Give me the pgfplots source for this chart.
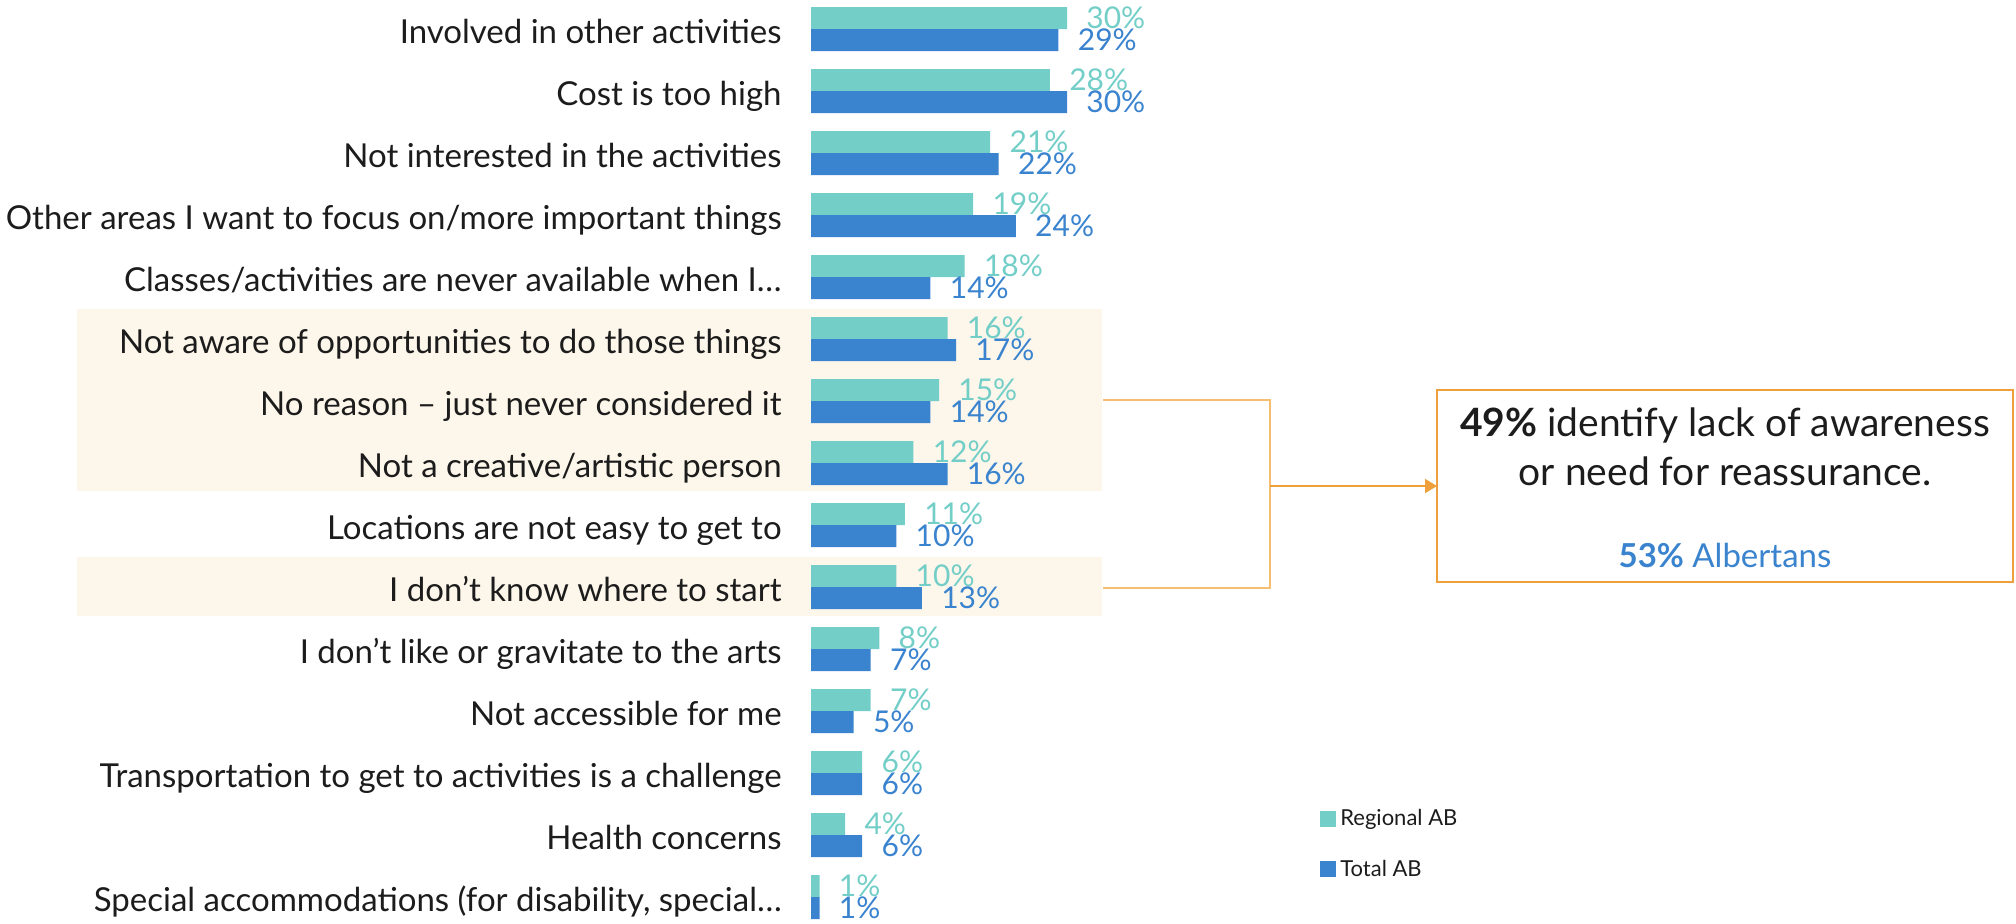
\documentclass[border=0pt]{standalone}
\usepackage{pgfplots}
\pgfplotsset{compat=1.18}
\usepackage{pgfplotstable}
\usepackage{fontspec}
\setmainfont{Lato}
\usetikzlibrary{arrows.meta}
\definecolor{regc}{RGB}{115,206,200}
\definecolor{totc}{RGB}{58,131,206}
\definecolor{bandc}{RGB}{253,246,234}
\definecolor{boxc}{RGB}{237,160,60}
\definecolor{brc}{RGB}{245,190,112}
\definecolor{txtc}{RGB}{28,28,28}
\pgfplotstableread{
y r t
14 30 29
13 28 30
12 21 22
11 19 24
10 18 14
9 16 17
8 15 14
7 12 16
6 11 10
5 10 13
4 8 7
3 7 5
2 6 6
1 4 6
0 1 1
}\data
\begin{document}
\begin{tikzpicture}
\useasboundingbox (0,0) rectangle (1008pt,-461.5pt);
% highlight bands
\fill[bandc] (38.5pt,-154.5pt) rectangle (551pt,-245.5pt);
\fill[bandc] (38.5pt,-278.5pt) rectangle (551pt,-308pt);
\begin{axis}[
  at={(405.5pt,1pt)}, anchor=north west,
  scale only axis, width=128pt, height=465pt,
  xmin=0, xmax=30, ymin=-0.5, ymax=14.5,
  axis line style={draw=none}, major tick length=0pt,
  xtick=\empty, ytick={0,...,14},
  yticklabels={{Special accommodations (for disability, special…},Health concerns,Transportation to get to activities is a challenge,Not accessible for me,I don’t like or gravitate to the arts,I don’t know where to start,Locations are not easy to get to,Not a creative/artistic person,No reason – just never considered it,Not aware of opportunities to do those things,Classes/activities are never available when I…,Other areas I want to focus on/more important things,Not interested in the activities,Cost is too high,Involved in other activities},
  yticklabel style={anchor=base east, inner sep=0pt, xshift=-14.5pt, yshift=-7pt, font=\fontsize{16.5}{19}\selectfont, text=txtc},
  clip=false, xbar, bar width=11pt,
  point meta=x,
  nodes near coords={\pgfmathprintnumber[assume math mode=true]{\pgfplotspointmeta}\%},
  every node near coord/.append style={anchor=west, inner sep=0pt, xshift=9.5pt, font=\fontsize{15}{17}\selectfont},
  legend style={at={(1.988,0.132)}, anchor=north west, draw=none, fill=none, inner sep=0pt, row sep=11.5pt, font=\fontsize{11}{13}\selectfont, text=txtc},
  legend cell align=left,
  legend image code/.code={\fill[#1] (0pt,-4pt) rectangle (8pt,4pt);},
]
\addplot[fill=regc, draw=none, bar shift=5.5pt, every node near coord/.append style={text=regc}] table[x=r,y=y] {\data};
\addplot[fill=totc, draw=none, bar shift=-5.5pt, every node near coord/.append style={text=totc}] table[x=t,y=y] {\data};
\legend{Regional AB, Total AB}
\end{axis}
% bracket
\draw[brc, line width=1pt] (551.5pt,-200pt) -- (635pt,-200pt) -- (635pt,-294pt) -- (551.5pt,-294pt);
\draw[boxc, line width=1pt, -{Triangle[length=6pt,width=7pt]}] (635pt,-243pt) -- (718.5pt,-243pt);
\draw[boxc, line width=1pt] (718.5pt,-195pt) rectangle (1006.5pt,-291pt);
\node[text=txtc, font=\fontsize{19.5}{22}\selectfont, anchor=center] at (862.5pt,-212.5pt) {\textbf{49\%} identify lack of awareness};
\node[text=txtc, font=\fontsize{19.5}{22}\selectfont, anchor=center] at (862.5pt,-235.5pt) {or need for reassurance.};
\node[text=totc, font=\fontsize{16.5}{19}\selectfont, anchor=center] at (862.5pt,-277.5pt) {\textbf{53\%} Albertans};
\end{tikzpicture}
\end{document}
